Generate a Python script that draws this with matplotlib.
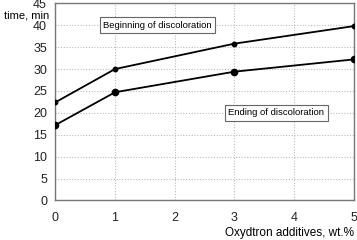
import matplotlib.pyplot as plt

plt.rcParams['font.family'] = ['Liberation Sans', 'DejaVu Sans']

additive = [0, 1, 3, 5]
begin_time = [22.4, 30.0, 35.8, 39.8]
end_time = [17.2, 24.7, 29.4, 32.2]

fig = plt.figure(figsize=(3.57, 2.4), dpi=100)
ax = fig.add_axes([0.155, 0.165, 0.836, 0.821])

ax.plot(additive, begin_time, color='black', lw=1.3, marker='o', ms=3.2, zorder=3)
ax.plot(additive, end_time, color='black', lw=1.3, marker='o', ms=4.5, zorder=3)

ax.set_xlim(0, 5)
ax.set_ylim(0, 45)
ax.set_xticks(range(0, 6))
ax.set_yticks(range(0, 46, 5))
ax.grid(True, color='#bbbbbb', ls=(0, (1, 1.5)), lw=0.8)
ax.set_axisbelow(True)
ax.tick_params(length=0, labelsize=9, colors='#222222')
ax.tick_params(axis='x', pad=8)
ax.tick_params(axis='y', pad=6)
for s in ax.spines.values():
    s.set_color('#777777')
    s.set_linewidth(1.0)

box = dict(boxstyle='square,pad=0.35', fc='white', ec='#666666', lw=0.8)
ax.text(1.71, 40.0, 'Beginning of discoloration', ha='center', va='center',
        fontsize=6.8, bbox=box, zorder=4)
ax.text(3.705, 20.0, 'Ending of discoloration', ha='center', va='center',
        fontsize=6.8, bbox=box, zorder=4)

fig.text(49 / 357, 1 - 15.3 / 240, 'time, min', ha='right', va='center', fontsize=8)
fig.text(354 / 357, 1 - 232.7 / 240, 'Oxydtron additives, wt.%', ha='right',
         va='center', fontsize=8.5)

fig.savefig('out.png', dpi=100)
